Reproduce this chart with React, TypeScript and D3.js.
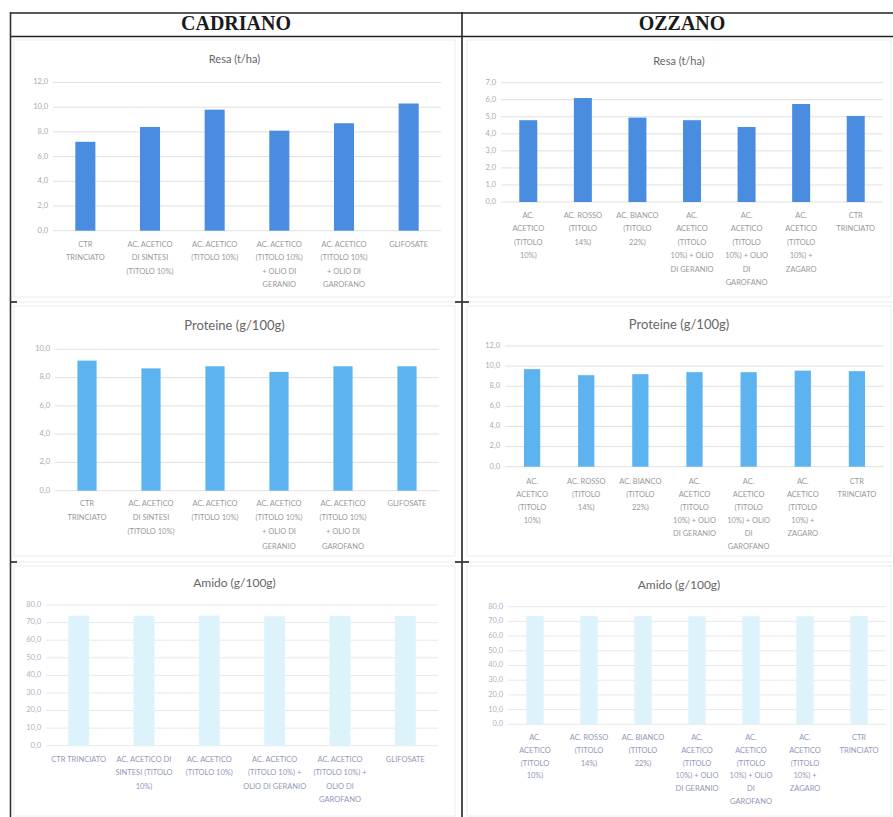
import React from "react";
import * as d3 from "d3";

// Column headings of the table
const sites = ["CADRIANO", "OZZANO"];

// Treatments, wrapped the way the axis shows them ("|" = line break)
const cadrianoLabels = [
  "CTR|TRINCIATO",
  "AC. ACETICO|DI SINTESI|(TITOLO 10%)",
  "AC. ACETICO|(TITOLO 10%)",
  "AC. ACETICO|(TITOLO 10%)|+ OLIO DI|GERANIO",
  "AC. ACETICO|(TITOLO 10%)|+ OLIO DI|GAROFANO",
  "GLIFOSATE",
];
const cadrianoAmidoLabels = [
  "CTR TRINCIATO",
  "AC. ACETICO DI|SINTESI (TITOLO|10%)",
  "AC. ACETICO|(TITOLO 10%)",
  "AC. ACETICO|(TITOLO 10%) +|OLIO DI GERANIO",
  "AC. ACETICO|(TITOLO 10%) +|OLIO DI|GAROFANO",
  "GLIFOSATE",
];
const ozzanoLabels = [
  "AC.|ACETICO|(TITOLO|10%)",
  "AC. ROSSO|(TITOLO|14%)",
  "AC. BIANCO|(TITOLO|22%)",
  "AC.|ACETICO|(TITOLO|10%) + OLIO|DI GERANIO",
  "AC.|ACETICO|(TITOLO|10%) + OLIO|DI|GAROFANO",
  "AC.|ACETICO|(TITOLO|10%) +|ZAGARO",
  "CTR|TRINCIATO",
];

// Values
const cadrianoResa = [7.2, 8.4, 9.8, 8.1, 8.7, 10.3];
const ozzanoResa = [4.8, 6.1, 4.95, 4.8, 4.4, 5.75, 5.05];
const cadrianoProteine = [9.2, 8.65, 8.8, 8.4, 8.8, 8.8];
const ozzanoProteine = [9.7, 9.1, 9.2, 9.4, 9.4, 9.55, 9.5];
const cadrianoAmido = [73.9, 73.9, 74.0, 73.6, 73.8, 73.8];
const ozzanoAmido = [73.6, 73.6, 73.6, 73.5, 73.5, 73.5, 73.6];

// Chart titles
const titles = ["Resa (t/ha)", "Proteine  (g/100g)", "Amido (g/100g)"];

const FONT = "Lato, 'Open Sans', sans-serif";
const fmt = (v: number) => d3.format(".1f")(v).replace(".", ",");

type PanelProps = {
  box: [number, number, number, number];
  plot: { left: number; right: number; top: number; bottom: number };
  title: string;
  titleY: number;
  titleSize: number;
  labels: string[];
  values: number[];
  yMax: number;
  yStep: number;
  color: string;
  barFrac: number;
  labelY: number;
  lineH: number;
  labelColor: string;
  tickColor: string;
  gridColor: string;
};

function BarPanel(p: PanelProps) {
  const [bx, by, bw, bh] = p.box;
  const x = d3
    .scaleBand<number>()
    .domain(d3.range(p.values.length))
    .range([p.plot.left, p.plot.right])
    .paddingInner(1 - p.barFrac)
    .paddingOuter((1 - p.barFrac) / 2);
  const y = d3.scaleLinear().domain([0, p.yMax]).range([p.plot.bottom, p.plot.top]);
  const ticks = d3.range(0, p.yMax + p.yStep / 2, p.yStep);
  const cx = (bx + bx + bw) / 2;
  return (
    <g>
      <rect x={bx} y={by} width={bw} height={bh} fill="#fff" stroke="#ececec" strokeWidth={1} />
      <text x={cx} y={p.titleY} textAnchor="middle" dominantBaseline="middle" fontFamily={FONT} fontSize={p.titleSize} fill="#666">
        {p.title}
      </text>
      {ticks.map((t) => (
        <g key={t}>
          <line x1={p.plot.left} x2={p.plot.right} y1={y(t)} y2={y(t)} stroke={p.gridColor} strokeWidth={1} />
          <text x={p.plot.left - 5} y={y(t)} textAnchor="end" dominantBaseline="middle" fontFamily={FONT} fontSize={7.5} fill={p.tickColor}>
            {fmt(t)}
          </text>
        </g>
      ))}
      {p.values.map((v, i) => (
        <rect key={i} x={x(i)} y={y(v)} width={x.bandwidth()} height={y(0) - y(v)} fill={p.color} />
      ))}
      {p.labels.map((lab, i) => {
        const c = (x(i) as number) + x.bandwidth() / 2;
        return (
          <text key={i} textAnchor="middle" fontFamily={FONT} fontSize={7.5} fill={p.labelColor}>
            {lab.split("|").map((ln, j) => (
              <tspan key={j} x={c} y={p.labelY + j * p.lineH} dominantBaseline="middle">
                {ln}
              </tspan>
            ))}
          </text>
        );
      })}
    </g>
  );
}

export default function App() {
  const W = 893;
  const H = 817;
  const gridColor = "#e0e0e0";
  return (
    <div style={{ position: "absolute", left: 0, top: 0 }}>
      <svg width={W} height={H} style={{ display: "block", background: "#fff" }}>
        {/* Cadriano – yield */}
        <BarPanel
          box={[14, 40, 441, 257]}
          plot={{ left: 53, right: 441, top: 82.5, bottom: 230.7 }}
          title={titles[0]}
          titleY={60}
          titleSize={11}
          labels={cadrianoLabels}
          values={cadrianoResa}
          yMax={12}
          yStep={2}
          color="#4a8de0"
          barFrac={0.31}
          labelY={245}
          lineH={13.3}
          labelColor="#999"
          tickColor="#aaa"
          gridColor={gridColor}
        />
        {/* Ozzano – yield */}
        <BarPanel
          box={[467, 40, 424, 257]}
          plot={{ left: 501, right: 883, top: 82.7, bottom: 202 }}
          title={titles[0]}
          titleY={62}
          titleSize={11}
          labels={ozzanoLabels}
          values={ozzanoResa}
          yMax={7}
          yStep={1}
          color="#4a8de0"
          barFrac={0.33}
          labelY={216}
          lineH={13.4}
          labelColor="#999"
          tickColor="#aaa"
          gridColor={gridColor}
        />
        {/* Cadriano – proteins */}
        <BarPanel
          box={[14, 306, 441, 250]}
          plot={{ left: 55, right: 439, top: 349.3, bottom: 490.7 }}
          title={titles[1]}
          titleY={327}
          titleSize={13}
          labels={cadrianoLabels}
          values={cadrianoProteine}
          yMax={10}
          yStep={2}
          color="#5db3f0"
          barFrac={0.3}
          labelY={504}
          lineH={14.2}
          labelColor="#999"
          tickColor="#aaa"
          gridColor={gridColor}
        />
        {/* Ozzano – proteins */}
        <BarPanel
          box={[467, 306, 424, 250]}
          plot={{ left: 505, right: 884, top: 346, bottom: 466.7 }}
          title={titles[1]}
          titleY={326}
          titleSize={13}
          labels={ozzanoLabels}
          values={ozzanoProteine}
          yMax={12}
          yStep={2}
          color="#5db3f0"
          barFrac={0.3}
          labelY={481.7}
          lineH={13.1}
          labelColor="#999"
          tickColor="#aaa"
          gridColor={gridColor}
        />
        {/* Cadriano – starch */}
        <BarPanel
          box={[14, 566, 441, 250]}
          plot={{ left: 46, right: 438, top: 605, bottom: 745.7 }}
          title={titles[2]}
          titleY={584}
          titleSize={12}
          labels={cadrianoAmidoLabels}
          values={cadrianoAmido}
          yMax={80}
          yStep={10}
          color="#ddf3fb"
          barFrac={0.32}
          labelY={760}
          lineH={13.3}
          labelColor="#9398b8"
          tickColor="#adb1c8"
          gridColor="#e8e8e8"
        />
        {/* Ozzano – starch */}
        <BarPanel
          box={[467, 566, 424, 250]}
          plot={{ left: 508, right: 886, top: 606.7, bottom: 724.3 }}
          title={titles[2]}
          titleY={586}
          titleSize={12}
          labels={ozzanoLabels}
          values={ozzanoAmido}
          yMax={80}
          yStep={10}
          color="#ddf3fb"
          barFrac={0.32}
          labelY={738}
          lineH={12.8}
          labelColor="#9398b8"
          tickColor="#adb1c8"
          gridColor="#e8e8e8"
        />

        {/* Table rules */}
        <line x1={10} x2={W} y1={13} y2={13} stroke="#222" strokeWidth={1.6} />
        <line x1={10} x2={W} y1={36.5} y2={36.5} stroke="#222" strokeWidth={1.6} />
        <line x1={10.5} x2={10.5} y1={12} y2={H} stroke="#3a3030" strokeWidth={1.6} />
        <line x1={462} x2={462} y1={12} y2={H} stroke="#222" strokeWidth={1.6} />
        <line x1={10} x2={W} y1={302} y2={302} stroke="#ebebeb" strokeWidth={1} />
        <line x1={10} x2={W} y1={562} y2={562} stroke="#ebebeb" strokeWidth={1} />
        {[302, 562].map((ry) => (
          <g key={ry}>
            <line x1={10} x2={17} y1={ry} y2={ry} stroke="#222" strokeWidth={1.6} />
            <line x1={455} x2={469} y1={ry} y2={ry} stroke="#222" strokeWidth={1.6} />
          </g>
        ))}
        <text x={236} y={25.5} textAnchor="middle" dominantBaseline="middle" fontFamily="'Liberation Serif', 'DejaVu Serif', serif" fontWeight="bold" fontSize={20} fill="#1a1a1a">
          {sites[0]}
        </text>
        <text x={682} y={25.5} textAnchor="middle" dominantBaseline="middle" fontFamily="'Liberation Serif', 'DejaVu Serif', serif" fontWeight="bold" fontSize={20} fill="#1a1a1a">
          {sites[1]}
        </text>
      </svg>
    </div>
  );
}
